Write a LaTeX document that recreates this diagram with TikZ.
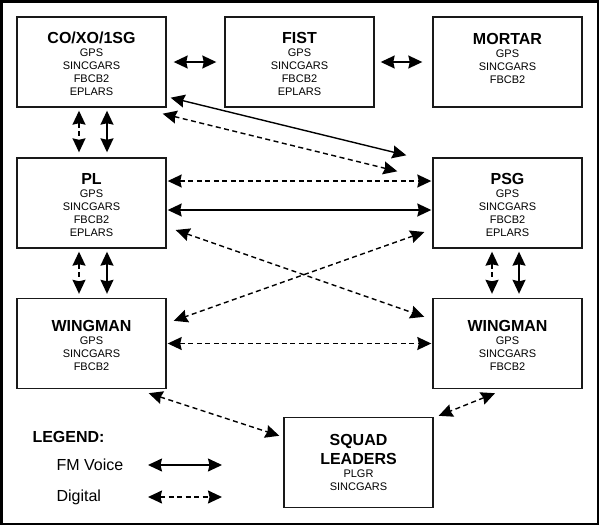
\documentclass[tikz,border=0pt]{standalone}
\usepackage{fontspec}
\setmainfont{Liberation Sans}
\usetikzlibrary{arrows.meta}
\newcommand\titlefont{\fontsize{16}{19}\selectfont\bfseries}
\newcommand\unittitle[1]{\rule{0pt}{16pt}{\titlefont #1}}

\begin{document}
\begin{tikzpicture}[x=1pt, y=-1pt,
        unit/.style={draw=black!90, line width=1.4pt, minimum width=149pt, minimum height=90pt,
            inner sep=0pt, align=center, font=\fontsize{11}{13}\selectfont, text=black},
        link/.style={line width=1.4pt, {Stealth[length=14pt, width=13pt, inset=1.5pt]}-{Stealth[length=14pt, width=13pt, inset=1.5pt]}},
        voice/.style={link},
        digital/.style={link, dash pattern=on 5pt off 3.5pt}]
        \useasboundingbox (0, 0) rectangle (599, 525);
        \draw[line width=2.5pt] (1.25, 1.25) rectangle (597.75, 523.75);
        % units
        \node[unit] (co) at (91.5, 62) {\unittitle{CO/XO/1SG}\\GPS\\SINCGARS\\FBCB2\\EPLARS};
        \node[unit] (fist) at (299.5, 62) {\unittitle{FIST}\\GPS\\SINCGARS\\FBCB2\\EPLARS};
        \node[unit] (mortar) at (507.5, 62) {\unittitle{MORTAR}\\GPS\\SINCGARS\\FBCB2\\\mbox{}};
        \node[unit] (pl) at (91.5, 203) {\unittitle{PL}\\GPS\\SINCGARS\\FBCB2\\EPLARS};
        \node[unit] (psg) at (507.5, 203) {\unittitle{PSG}\\GPS\\SINCGARS\\FBCB2\\EPLARS};
        \node[unit] (wingl) at (91.5, 343.5) {\unittitle{WINGMAN}\\GPS\\SINCGARS\\FBCB2};
        \node[unit] (wingr) at (507.5, 343.5) {\unittitle{WINGMAN}\\GPS\\SINCGARS\\FBCB2};
        \node[unit] (squad) at (358.5, 462.5) {{\titlefont SQUAD}\\[4pt]{\titlefont LEADERS}\\PLGR\\SINCGARS};
        % top row
        \draw[voice] ([xshift=7] co.east) -- ([xshift=-8] fist.west);
        \draw[voice] ([xshift=6] fist.east) -- ([xshift=-10] mortar.west);
        % verticals
        \draw[digital] ([shift={(-12.5, 3)}] co.south) -- ([shift={(-12.5, -5)}] pl.north);
        \draw[voice] ([shift={(15.5, 3)}] co.south) -- ([shift={(15.5, -5)}] pl.north);
        \draw[digital] ([shift={(-12.5, 3)}] pl.south) -- ([shift={(-12.5, -4)}] wingl.north);
        \draw[voice] ([shift={(15.5, 3)}] pl.south) -- ([shift={(15.5, -4)}] wingl.north);
        \draw[digital] ([shift={(-15.5, 3)}] psg.south) -- ([shift={(-15.5, -4)}] wingr.north);
        \draw[voice] ([shift={(11.5, 3)}] psg.south) -- ([shift={(11.5, -4)}] wingr.north);
        % diagonals and crossings
        \draw[voice] ([shift={(4, -10)}] co.south east) -- ([shift={(-26, -2)}] psg.north west);
        \draw[digital] ([shift={(-4, 6)}] co.south east) -- ([shift={(-35, 14)}] psg.north west);
        \draw[digital] ([shift={(1, -22)}] pl.east) -- ([shift={(-1, -22)}] psg.west);
        \draw[voice] ([shift={(1, 7)}] pl.east) -- ([shift={(-1, 7)}] psg.west);
        \draw[digital] ([shift={(9, 27)}] pl.east) -- ([shift={(-8, 19)}] wingr.north west);
        \draw[digital] ([shift={(-8, 29)}] psg.west) -- ([shift={(7, 23)}] wingl.north east);
        \draw[digital] ([xshift=1] wingl.east) -- ([xshift=-1] wingr.west);
        \draw[digital] ([shift={(-18, 4)}] wingl.south east) -- ([shift={(-4, 19)}] squad.north west);
        \draw[digital] ([shift={(-12.5, 4)}] wingr.south) -- ([shift={(5, -1)}] squad.north east);
        % legend
        \node[anchor=west, font=\titlefont] (legend) at (29, 437) {LEGEND:};
        \node[anchor=west, font=\fontsize{16}{19}\selectfont] (fm) at (53, 465) {FM Voice};
        \node[anchor=west, font=\fontsize{16}{19}\selectfont] (dig) at (53, 497) {Digital};
        \coordinate (fm-a) at (148, 465);
        \coordinate (fm-b) at (222, 465);
        \coordinate (dig-a) at (148, 497);
        \coordinate (dig-b) at (222, 497);
        \draw[voice] (fm-a) -- (fm-b);
        \draw[digital] (dig-a) -- (dig-b);
    \end{tikzpicture}
\end{document}
